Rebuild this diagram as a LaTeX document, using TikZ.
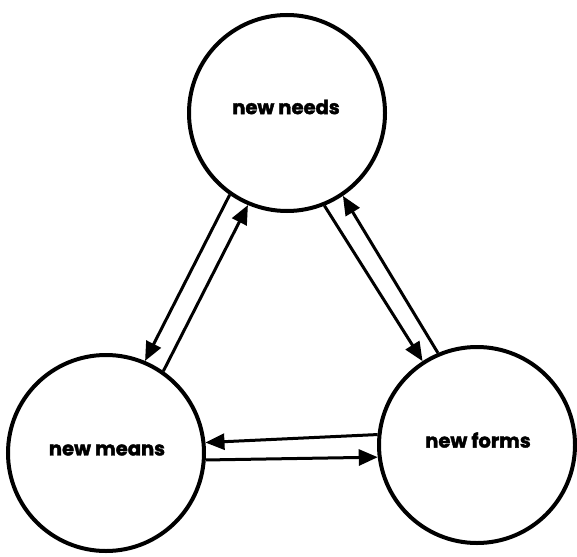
\documentclass[tikz,border=0pt]{standalone}
\usepackage{fontspec}
\setmainfont{Poppins}
\newfontfamily\heavy{Poppins}[BoldFeatures={FakeBold=2}]
\usetikzlibrary{arrows.meta}
\begin{document}
\begin{tikzpicture}[x=1pt,y=-1pt,
  bubble/.style={circle,draw,line width=4pt,minimum size=196pt,inner sep=0pt},
  label/.style={font=\heavy\bfseries\fontsize{19.5}{21}\selectfont},
  link/.style={line width=3pt,-{Triangle[length=19pt,width=16pt]}}]
\useasboundingbox (0,0) rectangle (577,556);
\node[bubble] (needs) at (287,113) {};
\node[bubble] (means) at (106,453) {};
\node[bubble] (forms) at (477,445) {};
\node[label] (tneeds) at (286,107) {new needs};
\node[label] (tmeans) at (107,450) {new means};
\node[label] (tforms) at (478,440) {new forms};
\draw[link] (needs.235.4) -- (means.67.9);
\draw[link] (means.55.9) -- (needs.247.6);
\draw[link] (needs.292.8) -- (forms.123.8);
\draw[link] (forms.113.4) -- (needs.304.6);
\draw[link] (forms.174.3) -- (means.6.3);
\draw[link] (means.-4) -- (forms.187.5);
\end{tikzpicture}
\end{document}
